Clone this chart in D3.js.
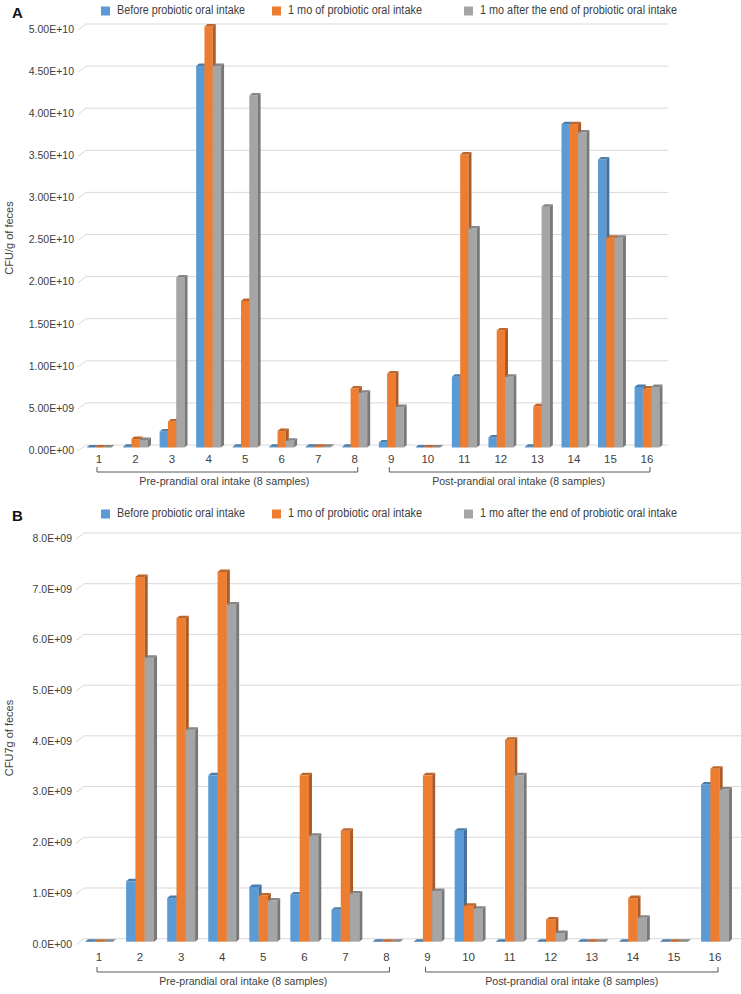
<!DOCTYPE html>
<html><head><meta charset="utf-8">
<script src="https://cdn.jsdelivr.net/npm/d3@7"></script>
<style>body{margin:0;background:#fff}</style>
</head><body><svg id="c" width="741" height="994"></svg>
<script>
// ---------- DATA ----------
const categories = ["1","2","3","4","5","6","7","8","9","10","11","12","13","14","15","16"];
const seriesNames = ["Before probiotic oral intake","1 mo of probiotic oral intake","1 mo after the end of probiotic oral intake"];
const seriesColors = ["#5B9BD5","#ED7D31","#A5A5A5"];
const groupLabels = ["Pre-prandial oral intake (8 samples)","Post-prandial oral intake (8 samples)"];
const groupStart = ["1","9"];
const groupEnd = ["8","16"];

// Panel A (CFU/g of feces)
const aBefore = [0,0.1e9,1.9e9,4.53e10,0.1e9,0.1e9,0.1e9,0.1e9,0.6e9,0,8.4e9,1.2e9,0.1e9,3.84e10,3.42e10,7.2e9];
const aMonth  = [0,1.0e9,3.1e9,5.0e10,1.74e10,1.95e9,0.1e9,7.0e9,8.8e9,0,3.48e10,1.39e10,4.9e9,3.84e10,2.49e10,7.0e9];
const aAfter  = [0,0.9e9,2.02e10,4.53e10,4.18e10,0.8e9,0.1e9,6.5e9,4.8e9,0,2.6e10,8.4e9,2.86e10,3.74e10,2.49e10,7.2e9];
const aTicks = [0,5e9,1e10,1.5e10,2e10,2.5e10,3e10,3.5e10,4e10,4.5e10,5e10];
const aTickLabels = ["0.00E+00","5.00E+09","1.00E+10","1.50E+10","2.00E+10","2.50E+10","3.00E+10","3.50E+10","4.00E+10","4.50E+10","5.00E+10"];

// Panel B (CFU7g of feces)
const bBefore = [0,1.19e9,0.86e9,3.28e9,1.08e9,0.93e9,0.63e9,0,0,2.19e9,0,0,0,0,0,3.1e9];
const bMonth  = [0,7.19e9,6.38e9,7.29e9,0.91e9,3.28e9,2.19e9,0,3.28e9,0.71e9,3.98e9,0.44e9,0,0.86e9,0,3.41e9];
const bAfter  = [0,5.6e9,4.18e9,6.65e9,0.81e9,2.09e9,0.95e9,0,1.0e9,0.65e9,3.28e9,0.17e9,0,0.47e9,0,3.0e9];
const bTicks = [0,1e9,2e9,3e9,4e9,5e9,6e9,7e9,8e9];
const bTickLabels = ["0.0E+00","1.0E+09","2.0E+09","3.0E+09","4.0E+09","5.0E+09","6.0E+09","7.0E+09","8.0E+09"];

// ---------- DRAW ----------
const svg = d3.select("#c");
const FONT = "'Liberation Sans', Arial, sans-serif";
const TXT = "#404040";

function drawPanel(o) {
  const g = svg.append("g");
  const y = d3.scaleLinear().domain([0, o.max]).range([o.y0, o.yTop]);
  const step = (o.c1 - o.c0) / (categories.length - 1);
  const x = d3.scaleBand().domain(categories).range([o.c0 - step/2, o.c1 + step/2]).padding(0);
  const xs = d3.scaleBand().domain([0,1,2]).range([-1.5*o.bw, 1.5*o.bw]).padding(0);
  const cx = c => x(c) + x.bandwidth()/2;

  // panel letter
  g.append("text").attr("x", 12).attr("y", o.letterY).attr("font-family", FONT)
    .attr("font-weight", "bold").attr("font-size", 15).attr("fill", "#111")
    .attr("dominant-baseline", "middle").text(o.letter);

  // legend
  const lg = g.append("g");
  seriesNames.forEach((n, i) => {
    lg.append("rect").attr("x", o.legX[i]).attr("y", o.legY - 4.5).attr("width", 9).attr("height", 9).attr("fill", seriesColors[i]);
    lg.append("text").attr("x", o.legX[i] + 16).attr("y", o.legY).attr("dominant-baseline", "middle")
      .attr("font-family", FONT).attr("font-size", 12).attr("fill", TXT)
      .attr("textLength", o.legW[i]).attr("lengthAdjust", "spacingAndGlyphs").text(n);
  });

  // gridlines (back wall) with side-wall diagonal
  const grid = g.append("g");
  o.ticks.forEach(t => {
    grid.append("line").attr("x1", o.gx0).attr("x2", o.gx1).attr("y1", y(t)).attr("y2", y(t))
      .attr("stroke", "#d9d9d9").attr("stroke-width", 1);
    grid.append("line").attr("x1", o.gx0 - 8).attr("y1", y(t) + 6).attr("x2", o.gx0).attr("y2", y(t))
      .attr("stroke", "#d9d9d9").attr("stroke-width", 1);
  });

  // y axis labels
  const ya = g.append("g").attr("transform", `translate(${o.gx0 - 12},5)`)
    .call(d3.axisLeft(y).tickValues(o.ticks).tickSize(0).tickPadding(0).tickFormat((d, i) => o.tickLabels[i]));
  ya.select(".domain").remove();
  ya.selectAll("text").attr("font-family", FONT).attr("font-size", 10.5).attr("fill", TXT);

  // y title
  g.append("text").attr("transform", `translate(${o.titleX},${o.titleY}) rotate(-90)`)
    .attr("text-anchor", "middle").attr("dominant-baseline", "middle")
    .attr("font-family", FONT).attr("font-size", 11).attr("fill", TXT).text(o.title);

  // bars (pseudo 3D)
  const dx = 3, dy = 2.5, off = o.off;
  const series = o.values;
  categories.forEach((c, i) => {
    series.forEach((vals, s) => {
      const v = vals[i];
      const xl = cx(c) + xs(s);
      const w = xs.bandwidth();
      const yt = y(v) + off, yb = y(0) + off;
      const col = d3.color(seriesColors[s]);
      const gb = g.append("g");
      gb.append("rect").attr("x", xl).attr("y", yt).attr("width", w).attr("height", Math.max(0, yb - yt)).attr("fill", col.formatHex());
      gb.append("path").attr("d", `M${xl+w},${yt}L${xl+w+dx},${yt-dy}L${xl+w+dx},${yb-dy}L${xl+w},${yb}Z`)
        .attr("fill", col.darker(0.9).formatHex());
      gb.append("path").attr("d", `M${xl},${yt}L${xl+dx},${yt-dy}L${xl+w+dx},${yt-dy}L${xl+w},${yt}Z`)
        .attr("fill", col.darker(0.6).formatHex());
    });
  });

  // x axis labels
  const xa = g.append("g").attr("transform", `translate(0,${o.xLabY})`)
    .call(d3.axisBottom(x).tickSize(0).tickPadding(0));
  xa.select(".domain").remove();
  xa.selectAll("text").attr("font-family", FONT).attr("font-size", 11.5).attr("fill", TXT).attr("dy", "0.35em");

  // group brackets
  groupLabels.forEach((lab, k) => {
    const x1 = cx(groupStart[k]) - 2, x2 = cx(groupEnd[k]) + 3;
    g.append("path").attr("d", `M${x1},${o.brY - 5}V${o.brY}H${x2}V${o.brY - 5}`)
      .attr("fill", "none").attr("stroke", "#595959").attr("stroke-width", 1);
    g.append("text").attr("x", (x1 + x2) / 2 + o.labShift[k]).attr("y", o.brY + 10).attr("text-anchor", "middle")
      .attr("dominant-baseline", "middle").attr("font-family", FONT).attr("font-size", 11.5).attr("fill", TXT)
      .attr("textLength", o.labW[k]).attr("lengthAdjust", "spacingAndGlyphs").text(lab);
  });
}

drawPanel({
  letter: "A", letterY: 14, legY: 11, legX: [101, 272, 464], legW: [128, 134, 197],
  max: 5e10, ticks: aTicks, tickLabels: aTickLabels, y0: 445, yTop: 24,
  gx0: 86, gx1: 668, c0: 99, c1: 647, bw: 8.3, off: 2.5,
  title: "CFU/g of feces", titleX: 10, titleY: 238,
  values: [aBefore, aMonth, aAfter], xLabY: 459, brY: 472, labW: [170, 173], labShift: [-3, -1]
});

drawPanel({
  letter: "B", letterY: 517, legY: 514, legX: [101, 272, 464], legW: [128, 134, 197],
  max: 8e9, ticks: bTicks, tickLabels: bTickLabels, y0: 938.7, yTop: 533,
  gx0: 84, gx1: 741, c0: 99, c1: 715, bw: 9.3, off: 3,
  title: "CFU7g of feces", titleX: 10, titleY: 738,
  values: [bBefore, bMonth, bAfter], xLabY: 957, brY: 972, labW: [168, 173], labShift: [0, 0]
});
</script></body></html>
